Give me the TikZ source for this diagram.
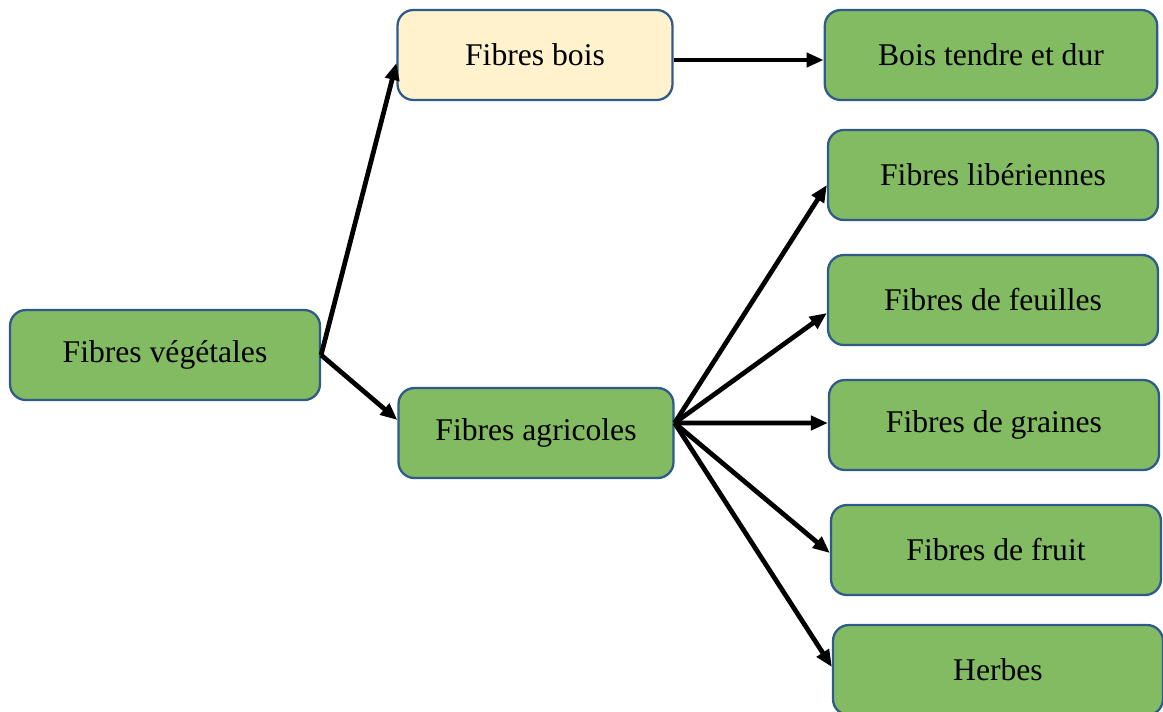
\documentclass[tikz,border=0pt]{standalone}
\usepackage{fontspec}
\setmainfont{Liberation Serif}
\usetikzlibrary{arrows.meta,positioning}
\usepackage{xcolor}
\definecolor{leafgreen}{HTML}{82BB61}
\definecolor{boxblue}{HTML}{2F5A8A}
\definecolor{woodcream}{HTML}{FFF2CC}

\begin{document}
\begin{tikzpicture}[x=0.02cm,y=-0.02cm,%
		   fibre/.style={draw=boxblue,line width=1.3pt,fill=leafgreen,rounded corners=9pt,minimum height=1.8cm,inner sep=2pt,font=\fontsize{18}{22}\selectfont},
		   wood/.style={fibre,fill=woodcream},
		   link/.style={-{Triangle[length=3.4mm,width=2.8mm]},line width=2.7pt}]

	\useasboundingbox (0,0) rectangle (1163,711);

	\node[fibre,minimum width=6.2cm] (veg) at (165,355) {Fibres végétales};
	\node[wood,minimum width=5.5cm] (bois) at (535,55) {Fibres bois};
	\node[fibre,minimum width=5.5cm] (agri) at (536,433) {Fibres agricoles};
	\node[fibre,minimum width=6.65cm] (dur) at (991,55) {Bois tendre et dur};

	\draw[link] (veg.east) -- ([yshift=-0.16cm]bois.west);
	\draw[link] (veg.east) -- ([yshift=0.26cm]agri.west);
	\draw[link] ([yshift=-0.1cm]bois.east) -- ([yshift=-0.1cm]dur.west);

	    \foreach \desc/\cx/\cy/\dy [count=\i] in {%
	       Fibres libériennes/993/175/-0.2cm,%
	       Fibres de feuilles/993/300/-0.26cm,%
	       Fibres de graines/994/425/0.04cm,%
	       Fibres de fruit/996/550/-0.06cm,%
	       Herbes/998/670/0.06cm%
	       } { \node[fibre,minimum width=6.6cm] (c-\i) at (\cx,\cy) {\desc};
		   \draw[link] ([yshift=0.2cm]agri.east) -- ([yshift=\dy]c-\i.west);
	       }

\end{tikzpicture}
\end{document}
